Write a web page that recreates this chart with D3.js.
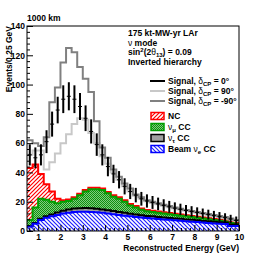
<!DOCTYPE html>
<html>
<head>
<meta charset="utf-8">
<script src="https://cdn.jsdelivr.net/npm/d3@7"></script>
<style>
  body { margin: 0; background: #fff; }
  text { font-family: 'Liberation Sans', Arial, sans-serif; font-weight: bold; fill: #000; }
</style>
</head>
<body>
<div id="chart"></div>
<script>
const width = 266, height = 258

// 0.25 GeV bins from 0.5 to 10 GeV
const binStart = 0.5, binWidth = 0.25, nBins = 38

// backgrounds (events / bin)
const beamNue = [3,5,7.5,9,10,11,12,12.5,13,13.2,13.2,13,12.8,12.4,12,11.5,11,10.5,10,9.6,9.2,8.8,8.5,8.2,7.9,7.6,7.3,7,6.7,6.4,6.1,5.8,5.5,5.2,5,4.8,3.5,3.5]
const nutauCC = [0.3,0.5,0.8,1,1.3,1.6,1.9,2.1,2.3,2.4,2.5,2.5,2.4,2.3,2.2,2.1,2,1.9,1.8,1.7,1.6,1.5,1.5,1.4,1.4,1.3,1.3,1.3,1.2,1.2,1.2,1.1,1.1,1.1,1,1,1,1]
const numuCC = [4.2,10.5,13.7,11.4,8.7,6.4,6.1,5.9,6.7,8.9,11.3,13,13.3,13.3,11.5,9.8,9,7.6,5.7,4.7,3.7,3.2,3,2.9,2.7,2.6,2.4,2.2,2.1,1.9,1.7,1.6,1.4,1.2,1,0.7,1,0.5]
const ncBkg = [35.5,29.5,17,10.6,7,3,1,1,1,1,1,1,1,1,1,1,1,1,1,1,0.9,0.9,0.9,0.8,0.8,0.8,0.8,0.8,0.8,0.7,0.7,0.7,0.7,0.7,0.6,0.6,0.6,0.6]

// signal + background totals
const totalDcp0 = [52,50,52,61,73,82.6,90,92,90,85,77,68,59,52,44,39,35,30.5,27,24.5,22,20.5,19.5,18.5,17.5,16.5,15.6,14.8,14,13.3,12.6,11.9,11.2,10.5,9.8,9.1,8.2,7.2]
const totalDcp90 = [52,55,55,42,47,53,60,66,73,77,76,67,60,51,46,40,35,30.5,27,24,22,20.3,19.2,18.2,17.2,16.2,15.4,14.6,13.8,13.1,12.4,11.7,11,10.3,9.6,8.9,8,7]
const totalDcpM90 = [62,60,58,64,88,98,115,125,122,112,104,95,75,57,50,42,37,32.5,29,25,23,21,20,19,18,17,16,15.2,14.4,13.7,13,12.3,11.6,10.9,10.2,9.5,8.5,7.5]

const yTicks = [0,20,40,60,80,100,120,140]
const xTicks = [1,2,3,4,5,6,7,8,9,10]

const margin = {left: 27, right: 27, top: 26, bottom: 27}

const x = d3.scaleLinear().domain([0.5, 10]).range([margin.left, width - margin.right])
const y = d3.scaleLinear().domain([0, 140]).range([height - margin.bottom, margin.top])

const svg = d3.select('#chart')
  .append('svg')
    .attr('width', width)
    .attr('height', height)

const defs = svg.append('defs')

defs.append('clipPath').attr('id', 'plotClip')
  .append('rect')
    .attr('x', x(0.5)).attr('y', y(140))
    .attr('width', x(10) - x(0.5)).attr('height', y(0) - y(140))

// hatch / stipple fills
function hatch(id, color, dir) {
  const p = defs.append('pattern')
    .attr('id', id)
    .attr('patternUnits', 'userSpaceOnUse')
    .attr('width', 4).attr('height', 4)
  p.append('rect').attr('width', 4).attr('height', 4).attr('fill', '#fff')
  p.append('path')
    .attr('d', dir > 0 ? 'M-1,5L5,-1M-1,1L1,-1M3,5L5,3' : 'M-1,-1L5,5M-1,3L1,5M3,-1L5,1')
    .attr('stroke', color)
    .attr('stroke-width', 1.2)
}
hatch('hatchRed', '#ff0000', 1)
hatch('hatchBlue', '#2020ff', -1)

const stip = defs.append('pattern')
  .attr('id', 'stipGreen')
  .attr('patternUnits', 'userSpaceOnUse')
  .attr('width', 2).attr('height', 2)
stip.append('rect').attr('width', 2).attr('height', 2).attr('fill', '#7fcc7f')
stip.append('rect').attr('width', 1).attr('height', 1).attr('fill', '#0f8f0f')
stip.append('rect').attr('x', 1).attr('y', 1).attr('width', 1).attr('height', 1).attr('fill', '#0f8f0f')

// stack the backgrounds
const rows = d3.range(nBins).map(i => ({
  lo: binStart + i * binWidth,
  hi: binStart + (i + 1) * binWidth,
  beam: beamNue[i], tau: nutauCC[i], numu: numuCC[i], nc: ncBkg[i]
}))

const layers = [
  {key: 'beam', fill: 'url(#hatchBlue)', stroke: '#0000ff'},
  {key: 'tau', fill: '#a0a0a0', stroke: '#000'},
  {key: 'numu', fill: 'url(#stipGreen)', stroke: '#00a000'},
  {key: 'nc', fill: 'url(#hatchRed)', stroke: '#ff0000'}
]

const stacked = d3.stack().keys(layers.map(l => l.key))(rows)

function steps(s) {
  const pts = []
  s.forEach(d => {
    pts.push({e: d.data.lo, y0: d[0], y1: d[1]})
    pts.push({e: d.data.hi, y0: d[0], y1: d[1]})
  })
  return pts
}

const area = d3.area()
  .x(d => x(d.e))
  .y0(d => y(d.y0))
  .y1(d => y(d.y1))

const topLine = d3.line()
  .x(d => x(d.e))
  .y(d => y(d.y1))

const plot = svg.append('g').attr('clip-path', 'url(#plotClip)')

stacked.forEach((s, k) => {
  plot.append('path')
    .attr('d', area(steps(s)))
    .attr('fill', layers[k].fill)
})
stacked.slice().reverse().forEach((s, k) => {
  plot.append('path')
    .attr('d', topLine(steps(s)))
    .attr('fill', 'none')
    .attr('stroke', layers[layers.length - 1 - k].stroke)
    .attr('stroke-width', 2)
})

// signal histograms
function histPts(vals) {
  const pts = []
  vals.forEach((v, i) => {
    pts.push([binStart + i * binWidth, v])
    pts.push([binStart + (i + 1) * binWidth, v])
  })
  return pts
}
const histLine = d3.line().x(d => x(d[0])).y(d => y(d[1]))

plot.append('path')
  .attr('d', histLine(histPts(totalDcp90)))
  .attr('fill', 'none')
  .attr('stroke', '#c8c8c8')
  .attr('stroke-width', 2)

plot.append('path')
  .attr('d', histLine(histPts(totalDcpM90)))
  .attr('fill', 'none')
  .attr('stroke', '#808080')
  .attr('stroke-width', 2)

// delta = 0 as points with sqrt(N) errors
const pts = plot.append('g')
totalDcp0.forEach((v, i) => {
  const c = binStart + (i + 0.5) * binWidth
  const err = Math.sqrt(v)
  pts.append('line')
    .attr('x1', x(c)).attr('x2', x(c))
    .attr('y1', y(v - err)).attr('y2', y(v + err))
    .attr('stroke', '#000').attr('stroke-width', 2)
  pts.append('line')
    .attr('x1', x(c) - 2).attr('x2', x(c) + 2)
    .attr('y1', y(v)).attr('y2', y(v))
    .attr('stroke', '#000').attr('stroke-width', 1)
})

// frame
svg.append('rect')
  .attr('x', x(0.5)).attr('y', y(140))
  .attr('width', x(10) - x(0.5)).attr('height', y(0) - y(140))
  .attr('fill', 'none')
  .attr('stroke', '#000')
  .attr('stroke-width', 1)

// axes (ticks point inward like ROOT)
const yAxis = svg.append('g')
  .attr('transform', `translate(${x(0.5)},0)`)
  .call(d3.axisLeft(y).tickValues(yTicks).tickSizeInner(-6).tickSizeOuter(0).tickPadding(2))
yAxis.select('.domain').remove()
yAxis.selectAll('text').style('font-size', '8.5px').attr('font-family', null)

svg.append('g')
  .attr('transform', `translate(${x(0.5)},0)`)
  .call(d3.axisLeft(y).tickValues(d3.range(4, 140, 4).filter(v => v % 20 !== 0)).tickSizeInner(-3).tickSizeOuter(0).tickFormat(''))
  .select('.domain').remove()

const xAxis = svg.append('g')
  .attr('transform', `translate(0,${y(0)})`)
  .call(d3.axisBottom(x).tickValues(xTicks).tickSizeInner(-6).tickSizeOuter(0).tickPadding(3))
xAxis.select('.domain').remove()
xAxis.selectAll('text').style('font-size', '8.5px').attr('font-family', null)

svg.append('g')
  .attr('transform', `translate(0,${y(0)})`)
  .call(d3.axisBottom(x).tickValues(d3.range(0.6, 10, 0.2).filter(v => Math.abs(v - Math.round(v)) > 0.01)).tickSizeInner(-3).tickSizeOuter(0).tickFormat(''))
  .select('.domain').remove()

// titles
svg.append('text')
  .attr('transform', `translate(11.5,${y(140)}) rotate(-90)`)
  .attr('text-anchor', 'end')
  .style('font-size', '8.5px')
  .text('Events/0.25 GeV')

svg.append('text')
  .attr('x', x(10)).attr('y', 251)
  .attr('text-anchor', 'end')
  .style('font-size', '8.5px')
  .text('Reconstructed Energy (GeV)')

svg.append('text')
  .attr('x', x(0.5)).attr('y', 20.5)
  .style('font-size', '8.5px')
  .text('1000 km')

// info block
const info = svg.append('g').style('font-size', '8.5px')
info.append('text').attr('x', 128).attr('y', 36).text('175 kt-MW-yr LAr')
const l2 = info.append('text').attr('x', 128).attr('y', 45.5)
l2.append('tspan').style('font-weight', 'normal').text('ν')
l2.append('tspan').text(' mode')
const l3 = info.append('text').attr('x', 128).attr('y', 55)
l3.append('tspan').text('sin')
l3.append('tspan').attr('dy', -3).style('font-size', '6px').text('2')
l3.append('tspan').attr('dy', 3).text('(2')
l3.append('tspan').style('font-weight', 'normal').text('θ')
l3.append('tspan').attr('dy', 2).style('font-size', '6px').text('13')
l3.append('tspan').attr('dy', -2).text(') = 0.09')
info.append('text').attr('x', 128).attr('y', 64.5).text('Inverted hierarchy')

// legend
const legLines = [
  {label: '0°', color: '#000', y: 81},
  {label: '90°', color: '#c8c8c8', y: 91},
  {label: '-90°', color: '#808080', y: 101}
]
const leg = svg.append('g').style('font-size', '8.5px')
legLines.forEach(d => {
  leg.append('line')
    .attr('x1', 150).attr('x2', 165)
    .attr('y1', d.y).attr('y2', d.y)
    .attr('stroke', d.color).attr('stroke-width', 2)
  const t = leg.append('text').attr('x', 168).attr('y', d.y + 3)
  t.append('tspan').text('Signal, ')
  t.append('tspan').style('font-weight', 'normal').text('δ')
  t.append('tspan').attr('dy', 2).style('font-size', '6px').text('CP')
  t.append('tspan').attr('dy', -2).text(' = ' + d.label)
})

const legBoxes = [
  {name: 'NC', sub: null, fill: 'url(#hatchRed)', stroke: '#ff0000', y: 116},
  {name: 'μ', sub: true, fill: 'url(#stipGreen)', stroke: '#00a000', y: 127},
  {name: 'τ', sub: true, fill: '#a0a0a0', stroke: '#000', y: 138},
  {name: 'e', sub: 'beam', fill: 'url(#hatchBlue)', stroke: '#0000ff', y: 149}
]
legBoxes.forEach(d => {
  leg.append('rect')
    .attr('x', 151).attr('y', d.y - 3.5)
    .attr('width', 13).attr('height', 7)
    .attr('fill', d.fill)
    .attr('stroke', d.stroke).attr('stroke-width', 1.5)
  const t = leg.append('text').attr('x', 168).attr('y', d.y + 3)
  if (!d.sub) { t.text(d.name); return }
  if (d.sub === 'beam') t.append('tspan').text('Beam ')
  t.append('tspan').style('font-weight', 'normal').text('ν')
  t.append('tspan').attr('dy', 2).style('font-size', '6px').text(d.name)
  t.append('tspan').attr('dy', -2).text(' CC')
})
</script>
</body>
</html>
